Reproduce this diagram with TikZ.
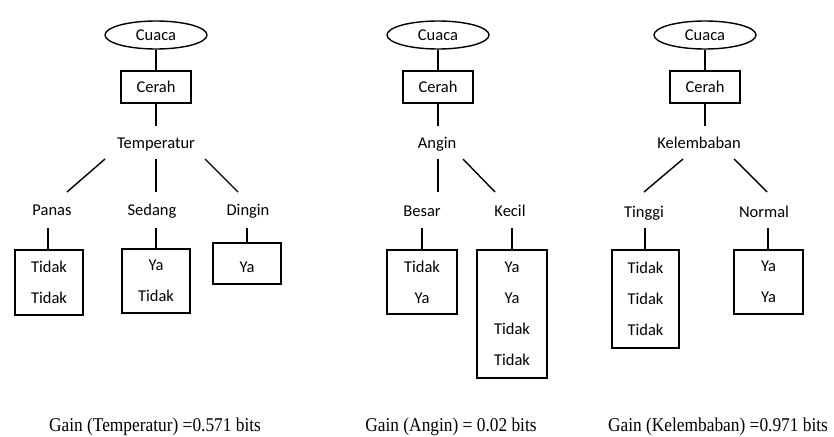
\documentclass[tikz,border=0pt]{standalone}
\usepackage{fontspec}
\setmainfont{Carlito}
\newfontfamily\gainfont{Liberation Serif}
\usetikzlibrary{shapes.geometric}
\begin{document}
\begin{tikzpicture}[x=1pt,y=-1pt,
  every node/.style={font=\fontsize{16.5}{31}\selectfont, inner sep=0pt},
  link/.style={line width=1.4pt},
  root/.style={draw, ellipse, line width=1.4pt, minimum width=102pt, minimum height=28pt},
  valbox/.style={draw, rectangle, line width=1.4pt, minimum width=70pt, minimum height=32pt},
  leaf/.style={draw, rectangle, line width=1.4pt, align=center},
  lbl/.style={anchor=base},
  gain/.style={anchor=base, font=\gainfont\fontsize{19.5}{22}\selectfont}]
\useasboundingbox (0,0) rectangle (834,436);

% ---------- Temperatur ----------
\node[root] (c1) at (156,35) {Cuaca};
\node[valbox] (s1) at (156,87) {Cerah};
\node[lbl] (a1) at (156,148.5) {Temperatur};
\coordinate (a1t) at (156,126);
\coordinate (a1l) at (105,159);
\coordinate (a1m) at (156,159);
\coordinate (a1r) at (205,159);
\coordinate (v1a) at (67,192);
\coordinate (v1b) at (156,192);
\coordinate (v1c) at (238,192);
\node[lbl] (l1a) at (52,215.5) {Panas};
\node[lbl] (l1b) at (152,215.5) {Sedang};
\node[lbl] (l1c) at (248,215.5) {Dingin};
\coordinate (d1a) at (48,228);
\coordinate (d1b) at (156,228);
\coordinate (d1c) at (247,228);
\node[leaf, minimum width=68pt, minimum height=65pt] (b1a) at (49,282.5) {Tidak\\Tidak};
\node[leaf, minimum width=68pt, minimum height=64pt] (b1b) at (156,281) {Ya\\Tidak};
\node[leaf, minimum width=68pt, minimum height=41pt, text height=20pt, text depth=2pt] (b1c) at (247,263.5) {Ya};
\draw[link] (c1) -- (s1);
\draw[link] (s1) -- (a1t);
\draw[link] (a1l) -- (v1a);
\draw[link] (a1m) -- (v1b);
\draw[link] (a1r) -- (v1c);
\draw[link] (d1a) -- (d1a |- b1a.north);
\draw[link] (d1b) -- (d1b |- b1b.north);
\draw[link] (d1c) -- (d1c |- b1c.north);
\node[gain] (g1) at (155,431.5) {\scalebox{0.89}[1]{Gain (Temperatur) =0.571 bits}};

% ---------- Angin ----------
\node[root] (c2) at (438,35) {Cuaca};
\node[valbox] (s2) at (438,87) {Cerah};
\node[lbl] (a2) at (437,148.5) {Angin};
\coordinate (a2t) at (438,126);
\coordinate (a2l) at (438,159);
\coordinate (a2r) at (463,159);
\coordinate (v2a) at (438,192);
\coordinate (v2b) at (495,192);
\node[lbl] (l2a) at (422,216.5) {Besar};
\node[lbl] (l2b) at (510,216.5) {Kecil};
\coordinate (d2a) at (422,228);
\coordinate (d2b) at (512,228);
\node[leaf, minimum width=70pt, minimum height=64pt] (b2a) at (422,282) {Tidak\\Ya};
\node[leaf, minimum width=70pt, minimum height=128pt] (b2b) at (512,314) {Ya\\Ya\\Tidak\\Tidak};
\draw[link] (c2) -- (s2);
\draw[link] (s2) -- (a2t);
\draw[link] (a2l) -- (v2a);
\draw[link] (a2r) -- (v2b);
\draw[link] (d2a) -- (b2a.north);
\draw[link] (d2b) -- (b2b.north);
\node[gain] (g2) at (451,431.5) {\scalebox{0.89}[1]{Gain (Angin) = 0.02 bits}};

% ---------- Kelembaban ----------
\node[root] (c3) at (705,35) {Cuaca};
\node[valbox] (s3) at (705,87) {Cerah};
\node[lbl] (a3) at (699,148.5) {Kelembaban};
\coordinate (a3t) at (705,126);
\coordinate (a3l) at (683,159);
\coordinate (a3r) at (734,159);
\coordinate (v3a) at (644,192);
\coordinate (v3b) at (767,192);
\node[lbl] (l3a) at (644,217.5) {Tinggi};
\node[lbl] (l3b) at (764,217.5) {Normal};
\coordinate (d3a) at (645,228);
\coordinate (d3b) at (768,228);
\node[leaf, minimum width=67pt, minimum height=98pt] (b3a) at (645.5,299) {Tidak\\Tidak\\Tidak};
\node[leaf, minimum width=69pt, minimum height=64pt] (b3b) at (768.5,282) {Ya\\Ya};
\draw[link] (c3) -- (s3);
\draw[link] (s3) -- (a3t);
\draw[link] (a3l) -- (v3a);
\draw[link] (a3r) -- (v3b);
\draw[link] (d3a) -- (d3a |- b3a.north);
\draw[link] (d3b) -- (d3b |- b3b.north);
\node[gain] (g3) at (718,431.5) {\scalebox{0.89}[1]{Gain (Kelembaban) =0.971 bits}};
\end{tikzpicture}
\end{document}
